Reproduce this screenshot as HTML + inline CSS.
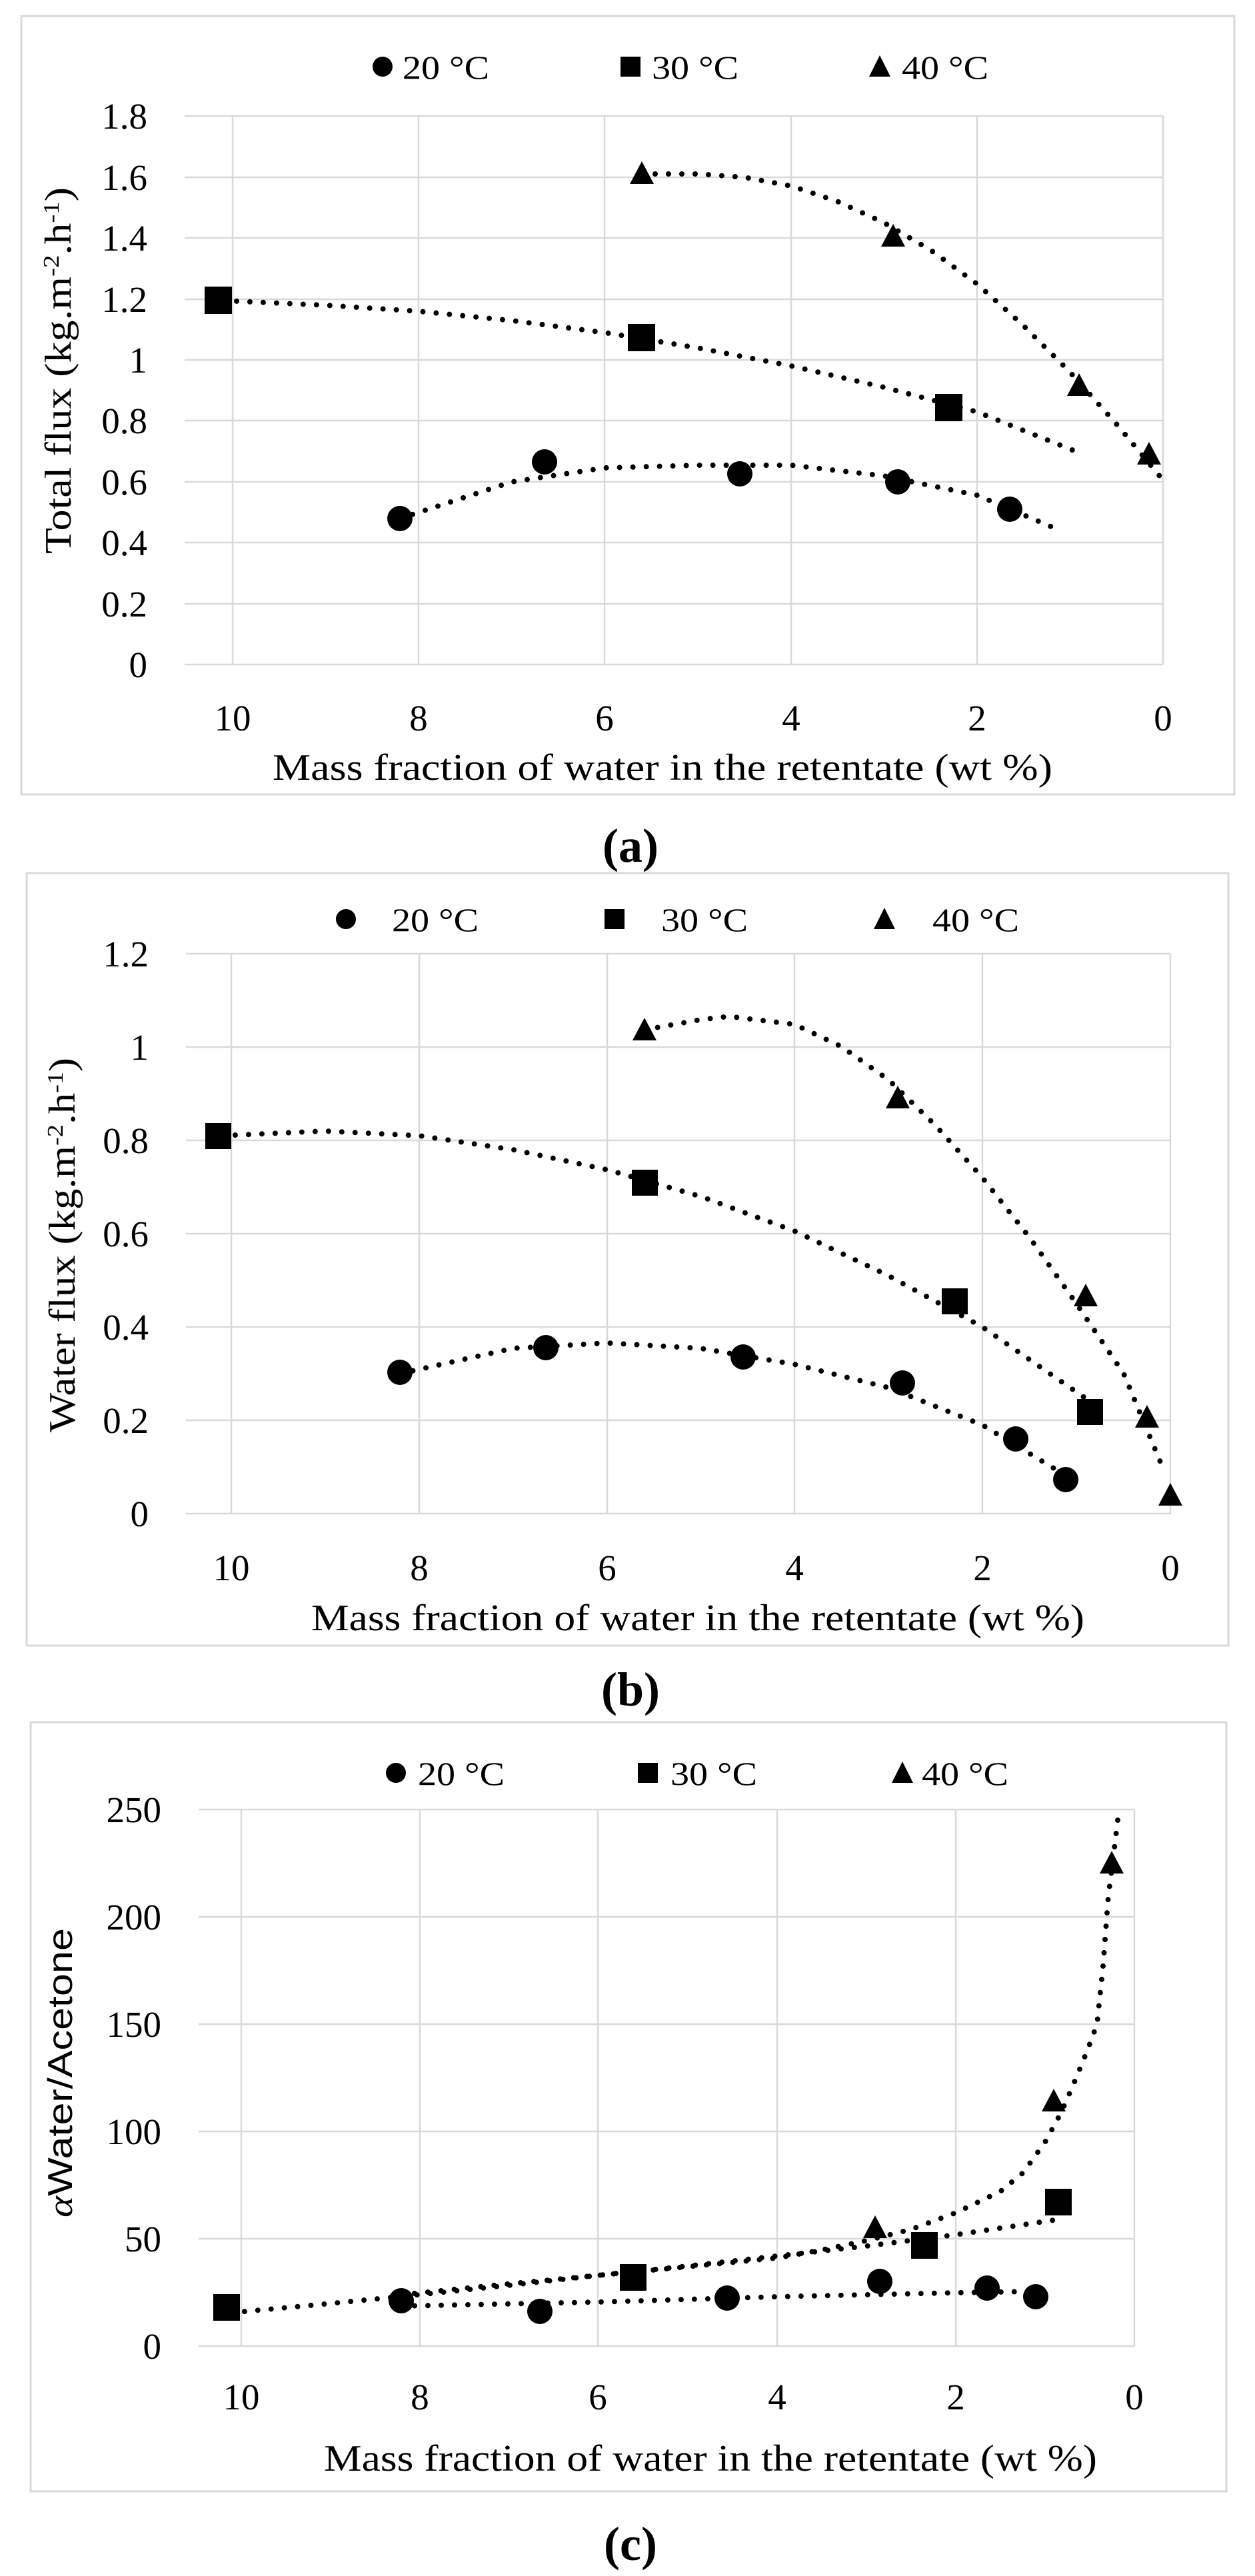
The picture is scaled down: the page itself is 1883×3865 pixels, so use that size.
<!DOCTYPE html>
<html><head><meta charset="utf-8"><style>
html,body{margin:0;padding:0;background:#fff}
svg{display:block}
text{font-family:"Liberation Serif",serif;fill:#000}
.g{stroke:#d9d9d9;stroke-width:2.5;fill:none}
.f{stroke:#d9d9d9;stroke-width:3;fill:none}
.t{fill:none;stroke:#000;stroke-width:8;stroke-linecap:round;stroke-linejoin:round;stroke-dasharray:0 20}
.tk{font-size:55px}
.lg{font-size:50px}
.ax{font-size:56px}
.cap{font-size:72px;font-weight:bold}
</style></head><body>
<svg width="1883" height="3865" viewBox="0 0 1883 3865" xmlns="http://www.w3.org/2000/svg">
<rect x="0" y="0" width="1883" height="3865" fill="#fff"/>

<!-- ============ (a) ============ -->
<rect class="f" x="32" y="24" width="1820" height="1168"/>
<g class="g">
<line x1="277" y1="174" x2="1745" y2="174"/><line x1="277" y1="266" x2="1745" y2="266"/>
<line x1="277" y1="357" x2="1745" y2="357"/><line x1="277" y1="449" x2="1745" y2="449"/>
<line x1="277" y1="540" x2="1745" y2="540"/><line x1="277" y1="631" x2="1745" y2="631"/>
<line x1="277" y1="723" x2="1745" y2="723"/><line x1="277" y1="814" x2="1745" y2="814"/>
<line x1="277" y1="906" x2="1745" y2="906"/><line x1="277" y1="997" x2="1745" y2="997"/>
<line x1="349" y1="174" x2="349" y2="997"/><line x1="628" y1="174" x2="628" y2="997"/>
<line x1="907" y1="174" x2="907" y2="997"/><line x1="1187" y1="174" x2="1187" y2="997"/>
<line x1="1466" y1="174" x2="1466" y2="997"/><line x1="1745" y1="174" x2="1745" y2="997"/>
</g>
<g class="tk" text-anchor="end">
<text x="221" y="193">1.8</text><text x="221" y="285">1.6</text><text x="221" y="376">1.4</text>
<text x="221" y="468">1.2</text><text x="221" y="559">1</text><text x="221" y="650">0.8</text>
<text x="221" y="742">0.6</text><text x="221" y="833">0.4</text><text x="221" y="925">0.2</text>
<text x="221" y="1016">0</text>
</g>
<g class="tk" text-anchor="middle">
<text x="349" y="1096">10</text><text x="628" y="1096">8</text><text x="907" y="1096">6</text>
<text x="1187" y="1096">4</text><text x="1466" y="1096">2</text><text x="1745" y="1096">0</text>
</g>
<text class="ax" x="994" y="1170" text-anchor="middle" textLength="1170" lengthAdjust="spacingAndGlyphs">Mass fraction of water in the retentate (wt %)</text>
<text class="ax" transform="translate(106,556) rotate(-90)" text-anchor="middle" textLength="550" lengthAdjust="spacingAndGlyphs">Total  flux (kg.m<tspan font-size="34" dy="-18">-2</tspan><tspan dy="18">.h</tspan><tspan font-size="34" dy="-18">-1</tspan><tspan dy="18">)</tspan></text>
<circle cx="574" cy="100" r="15"/><text class="lg" x="604" y="118" textLength="130" lengthAdjust="spacingAndGlyphs">20 °C</text>
<rect x="931" y="85" width="30" height="30"/><text class="lg" x="978" y="118" textLength="130" lengthAdjust="spacingAndGlyphs">30 °C</text>
<polygon points="1320,83 1336,115 1304,115"/><text class="lg" x="1353" y="118" textLength="130" lengthAdjust="spacingAndGlyphs">40 °C</text>
<polyline class="t" points="600,778 768,723 907,702 1047,698 1187,698 1326,714 1466,743 1591,796"/>
<polyline class="t" points="335,451 489,458 628,467 768,481 907,499 1047,522 1187,549 1326,581 1466,618 1626,682"/>
<polyline class="t" points="963,261 1047,261 1117,266 1187,279 1256,302 1326,334 1396,375 1466,426 1535,488 1605,558 1675,636 1743,718"/>
<circle cx="600" cy="778" r="19"/><circle cx="817" cy="693" r="19"/><circle cx="1110" cy="711" r="19"/><circle cx="1347" cy="723" r="19"/><circle cx="1515" cy="764" r="19"/>
<rect x="307" y="430" width="41" height="41"/><rect x="942" y="486" width="41" height="41"/><rect x="1403" y="591" width="41" height="41"/>
<polygon points="963,242 981,276 945,276"/><polygon points="1340,336 1358,370 1322,370"/><polygon points="1619,560 1637,594 1601,594"/><polygon points="1724,663 1742,697 1706,697"/>
<text class="cap" x="946" y="1293" text-anchor="middle">(a)</text>

<!-- ============ (b) ============ -->
<rect class="f" x="40" y="1310" width="1803" height="1159"/>
<g class="g">
<line x1="279" y1="1431" x2="1756" y2="1431"/><line x1="279" y1="1571" x2="1756" y2="1571"/>
<line x1="279" y1="1711" x2="1756" y2="1711"/><line x1="279" y1="1851" x2="1756" y2="1851"/>
<line x1="279" y1="1991" x2="1756" y2="1991"/><line x1="279" y1="2131" x2="1756" y2="2131"/>
<line x1="279" y1="2271" x2="1756" y2="2271"/>
<line x1="347" y1="1431" x2="347" y2="2271"/><line x1="629" y1="1431" x2="629" y2="2271"/>
<line x1="911" y1="1431" x2="911" y2="2271"/><line x1="1192" y1="1431" x2="1192" y2="2271"/>
<line x1="1474" y1="1431" x2="1474" y2="2271"/><line x1="1756" y1="1431" x2="1756" y2="2271"/>
</g>
<g class="tk" text-anchor="end">
<text x="223" y="1450">1.2</text><text x="223" y="1590">1</text><text x="223" y="1730">0.8</text>
<text x="223" y="1870">0.6</text><text x="223" y="2010">0.4</text><text x="223" y="2150">0.2</text>
<text x="223" y="2290">0</text>
</g>
<g class="tk" text-anchor="middle">
<text x="347" y="2371">10</text><text x="629" y="2371">8</text><text x="911" y="2371">6</text>
<text x="1192" y="2371">4</text><text x="1474" y="2371">2</text><text x="1756" y="2371">0</text>
</g>
<text class="ax" x="1047" y="2446" text-anchor="middle" textLength="1160" lengthAdjust="spacingAndGlyphs">Mass fraction of water in the retentate (wt %)</text>
<text class="ax" transform="translate(112,1868) rotate(-90)" text-anchor="middle" textLength="562" lengthAdjust="spacingAndGlyphs">Water flux (kg.m<tspan font-size="34" dy="-18">-2</tspan><tspan dy="18">.h</tspan><tspan font-size="34" dy="-18">-1</tspan><tspan dy="18">)</tspan></text>
<circle cx="519" cy="1379" r="15"/><text class="lg" x="588" y="1397" textLength="130" lengthAdjust="spacingAndGlyphs">20 °C</text>
<rect x="907" y="1364" width="30" height="30"/><text class="lg" x="992" y="1397" textLength="130" lengthAdjust="spacingAndGlyphs">30 °C</text>
<polygon points="1327,1362 1343,1394 1311,1394"/><text class="lg" x="1399" y="1397" textLength="130" lengthAdjust="spacingAndGlyphs">40 °C</text>
<polyline class="t" points="600,2061 770,2023 911,2015 1051,2023 1192,2047 1333,2082 1474,2138 1601,2215"/>
<polyline class="t" points="333,1704 488,1697 629,1704 770,1725 911,1755 1051,1795 1192,1847 1333,1914 1474,1991 1636,2103"/>
<polyline class="t" points="967,1545 1051,1530 1094,1525 1192,1537 1262,1570 1333,1620 1403,1688 1474,1767 1545,1857 1615,1956 1686,2061 1747,2208"/>
<circle cx="600" cy="2059" r="19"/><circle cx="819" cy="2022" r="19"/><circle cx="1115" cy="2036" r="19"/><circle cx="1354" cy="2075" r="19"/><circle cx="1524" cy="2159" r="19"/><circle cx="1599" cy="2220" r="19"/>
<rect x="308" y="1685" width="39" height="39"/><rect x="948" y="1755" width="39" height="39"/><rect x="1413" y="1933" width="39" height="39"/><rect x="1616" y="2099" width="39" height="39"/>
<polygon points="967,1527 985,1561 949,1561"/><polygon points="1347,1629 1365,1663 1329,1663"/><polygon points="1629,1926 1647,1960 1611,1960"/><polygon points="1721,2108 1739,2142 1703,2142"/><polygon points="1756,2225 1774,2259 1738,2259"/>
<text class="cap" x="946" y="2559" text-anchor="middle">(b)</text>

<!-- ============ (c) ============ -->
<rect class="f" x="46" y="2584" width="1794" height="1154"/>
<g class="g">
<line x1="298" y1="2715" x2="1702" y2="2715"/><line x1="298" y1="2876" x2="1702" y2="2876"/>
<line x1="298" y1="3037" x2="1702" y2="3037"/><line x1="298" y1="3198" x2="1702" y2="3198"/>
<line x1="298" y1="3359" x2="1702" y2="3359"/><line x1="298" y1="3520" x2="1702" y2="3520"/>
<line x1="362" y1="2715" x2="362" y2="3520"/><line x1="630" y1="2715" x2="630" y2="3520"/>
<line x1="897" y1="2715" x2="897" y2="3520"/><line x1="1166" y1="2715" x2="1166" y2="3520"/>
<line x1="1434" y1="2715" x2="1434" y2="3520"/><line x1="1702" y1="2715" x2="1702" y2="3520"/>
</g>
<g class="tk" text-anchor="end">
<text x="242" y="2734">250</text><text x="242" y="2895">200</text><text x="242" y="3056">150</text>
<text x="242" y="3217">100</text><text x="242" y="3378">50</text><text x="242" y="3539">0</text>
</g>
<g class="tk" text-anchor="middle">
<text x="362" y="3615">10</text><text x="630" y="3615">8</text><text x="897" y="3615">6</text>
<text x="1166" y="3615">4</text><text x="1434" y="3615">2</text><text x="1702" y="3615">0</text>
</g>
<text class="ax" x="1066" y="3707" text-anchor="middle" textLength="1160" lengthAdjust="spacingAndGlyphs">Mass fraction of water in the retentate (wt %)</text>
<text transform="translate(108,3110) rotate(-90)" text-anchor="middle" textLength="434" lengthAdjust="spacingAndGlyphs" style="font-family:'Liberation Sans',sans-serif;font-size:52px"><tspan font-style="italic" style="font-family:'Liberation Serif',serif">α</tspan>Water/Acetone</text>
<circle cx="594" cy="2660" r="15"/><text class="lg" x="627" y="2678" textLength="130" lengthAdjust="spacingAndGlyphs">20 °C</text>
<rect x="957" y="2645" width="30" height="30"/><text class="lg" x="1006" y="2678" textLength="130" lengthAdjust="spacingAndGlyphs">30 °C</text>
<polygon points="1354,2643 1370,2675 1338,2675"/><text class="lg" x="1383" y="2678" textLength="130" lengthAdjust="spacingAndGlyphs">40 °C</text>
<polyline class="t" points="602,3460 750,3457 897,3454 1031,3450 1165,3446 1300,3443 1434,3440 1554,3438"/>
<polyline class="t" points="347,3470 487,3457 628,3443 763,3429 897,3414 1031,3400 1165,3385 1300,3370 1434,3353 1588,3330"/>
<polyline class="t" points="602,3443 750,3428 897,3414 1031,3401 1165,3388 1232,3376 1299,3362 1367,3345 1434,3320 1501,3288 1535,3260 1568,3214 1592,3170 1615,3117 1632,3075 1646,3037 1655,2950 1663,2844 1670,2790 1677,2731"/>
<circle cx="602" cy="3452" r="19"/><circle cx="810" cy="3468" r="19"/><circle cx="1091" cy="3448" r="19"/><circle cx="1320" cy="3423" r="19"/><circle cx="1481" cy="3433" r="19"/><circle cx="1554" cy="3446" r="19"/>
<rect x="320" y="3442" width="40" height="40"/><rect x="930" y="3397" width="40" height="40"/><rect x="1367" y="3349" width="40" height="40"/><rect x="1568" y="3284" width="40" height="40"/>
<polygon points="1313,3324 1331,3358 1295,3358"/><polygon points="1581,3134 1599,3168 1563,3168"/><polygon points="1668,2777 1686,2811 1650,2811"/>
<text class="cap" x="946" y="3841" text-anchor="middle">(c)</text>
</svg>
</body></html>
